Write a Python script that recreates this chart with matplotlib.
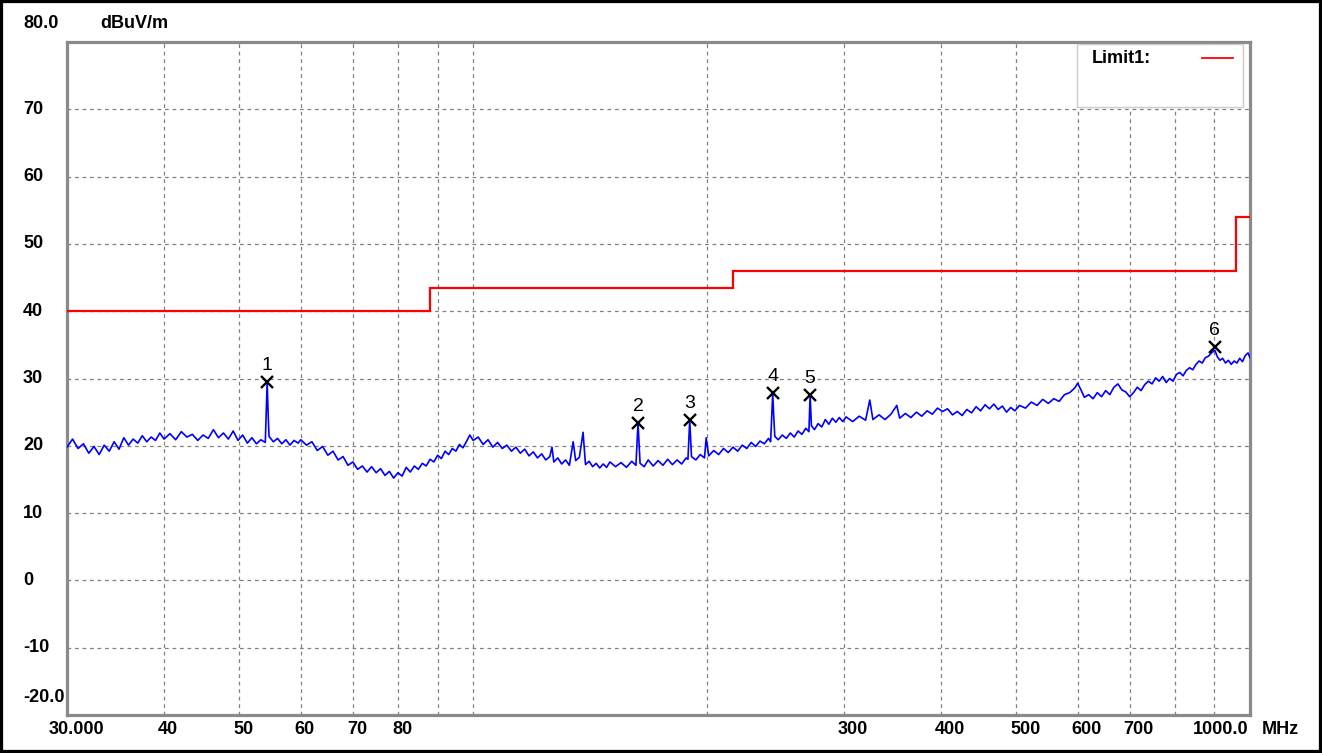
import matplotlib
matplotlib.use("Agg")
import matplotlib.pyplot as plt
from matplotlib.patches import Rectangle
from matplotlib.lines import Line2D
from matplotlib.transforms import blended_transform_factory, offset_copy

plt.rcParams['font.family'] = ['Liberation Sans', 'DejaVu Sans']

# receiver sweep (MHz, dBuV/m)
trace_freq = [
    30.0, 30.5, 31.0, 31.5, 32.0, 32.5, 33.0, 33.5, 34.0, 34.5,
    35.0, 35.5, 36.0, 36.5, 37.0, 37.5, 38.0, 38.5, 39.0, 39.5,
    40.0, 40.7, 41.4, 42.1, 42.8, 43.5, 44.2, 44.9, 45.6, 46.3,
    47.0, 47.7, 48.4, 49.1, 49.8, 50.5, 51.2, 51.9, 52.6, 53.3,
    54.0, 54.3, 54.45, 54.6, 55.3, 56.0, 56.7, 57.4, 58.1, 58.8, 59.5,
    60, 61, 62, 63, 64, 65, 66, 67, 68, 69,
    70, 71, 72, 73, 74, 75, 76, 77, 78, 79,
    80, 81, 82, 83, 84, 85, 86, 87, 88, 89,
    90, 91, 92, 93, 94, 95, 96, 97, 98, 99,
    100.0, 101.5, 103.0, 104.5, 106.0, 107.5, 109.0, 110.5, 112.0, 113.5,
    115.0, 116.5, 118.0, 119.5, 121.0, 122.5, 124.0, 125.5,
    126.3, 127.0, 128.5, 130.0, 131.5, 133.0, 134.5, 135.5, 137.0, 138.5,
    139.5, 141.0, 142.5, 144.0, 145.5, 147.0, 148.5,
    150.0, 152.5, 155.0, 157.5, 160.0, 162.0, 163.0, 164.0, 166.0, 168.0,
    170.5, 173.0, 175.5, 178.0, 180.5, 183.0, 185.5, 188.0, 189.0, 190.0,
    191.0, 193.5, 196.0, 198.5, 199.5,
    201, 204, 207, 210, 213, 216, 219, 222, 225, 228,
    231, 234, 237, 240, 241.5, 243.0, 243.7, 244.5, 247, 250,
    253, 256, 259, 262, 265, 268, 270.5, 271.5, 272.5, 275,
    278, 281, 284, 287, 290, 293, 296, 299,
    302, 308, 314, 320, 324, 327, 333, 339, 345, 351,
    354, 360, 366, 372, 378, 384, 390, 396, 402, 408,
    414, 420, 426, 432, 438, 444, 450, 456, 462, 468,
    474, 480, 486, 492, 498,
    505, 514, 523, 532, 541, 550, 559, 568, 577, 586,
    595, 600, 606, 612, 620, 628, 636, 644, 652, 660,
    668, 676, 684, 692, 700,
    708, 716, 724, 732, 740, 748, 756, 764, 772, 780,
    788, 796, 804, 812, 820, 828, 836, 844, 852, 860,
    868, 876, 884, 892, 901, 908, 915, 922, 930, 938,
    946, 954, 962, 970, 978, 986, 994, 1000,
]
trace_level = [
    19.8, 21.0, 19.6, 20.3, 18.9, 19.9, 18.7, 20.1, 19.2, 20.6,
    19.5, 21.2, 20.1, 21.0, 20.4, 21.5, 20.6, 21.3, 20.8, 21.9,
    21.0, 21.8, 20.9, 22.1, 21.3, 21.7, 20.8, 21.6, 21.1, 22.4,
    21.2, 21.9, 21.0, 22.2, 20.8, 21.6, 20.4, 21.2, 20.3, 20.9,
    20.5, 29.5, 24.9, 21.4, 20.6, 21.1, 20.3, 20.9, 20.1, 20.8, 20.4,
    20.9, 20.1, 20.6, 19.3, 19.9, 18.6, 19.2, 17.9, 18.4, 17.1,
    17.6, 16.5, 17.0, 16.1, 16.9, 16.0, 16.6, 15.6, 16.2, 15.2,
    16.0, 15.5, 16.8, 16.1, 17.0, 16.5, 17.4, 17.0, 18.0, 17.6,
    18.6, 18.1, 19.2, 18.7, 19.6, 19.2, 20.2, 19.7, 20.6, 21.6,
    20.8, 21.3, 20.2, 20.9, 19.8, 20.5, 19.6, 20.1, 19.2, 19.8,
    18.9, 19.5, 18.5, 19.1, 18.2, 18.8, 17.9, 18.4,
    19.8, 17.6, 18.2, 17.3, 17.9, 17.1, 20.6, 17.8, 18.3, 22.0,
    17.2, 17.7, 16.9, 17.4, 16.7, 17.3, 16.8,
    17.6, 16.9, 17.5, 16.8, 17.7, 17.1, 23.4, 17.4, 16.9, 17.9,
    17.0, 17.8, 17.1, 18.0, 17.2, 17.9, 17.3, 18.2, 18.0, 23.8,
    18.4, 17.9, 18.7, 18.2, 21.2,
    18.5, 19.3, 18.7, 19.6, 19.0, 19.8, 19.2, 20.1, 19.6, 20.5,
    19.9, 20.7, 20.3, 21.1, 20.6, 27.8, 24.5, 21.4, 20.9, 21.6,
    21.1, 21.9, 21.3, 22.2, 21.7, 22.6, 22.1, 27.5, 23.0, 22.4,
    23.3, 22.8, 23.9, 23.2, 24.1, 23.5, 24.2, 23.6,
    24.3, 23.6, 24.4, 23.8, 26.8, 23.9, 24.6, 23.9, 24.7, 26.0,
    24.1, 24.8, 24.2, 25.0, 24.4, 25.2, 24.7, 25.6, 25.1, 25.5,
    24.6, 25.1, 24.5, 25.4, 24.9, 25.8, 25.2, 26.1, 25.5, 26.2,
    25.4, 25.9, 25.0, 25.7, 25.2,
    26.0, 25.6, 26.5, 26.0, 26.9, 26.3, 27.0, 26.6, 27.6, 27.9,
    28.6, 29.3, 28.3, 27.2, 27.6, 27.0, 27.9, 27.3, 28.2, 27.6,
    28.7, 29.2, 28.3, 28.0, 27.3,
    27.9, 28.7, 28.2, 29.1, 29.6, 29.2, 30.1, 29.6, 30.3, 29.4,
    30.0, 29.6, 30.6, 30.9, 30.4, 31.2, 31.6, 31.3, 32.1, 32.6,
    32.3, 33.1, 33.3, 33.8, 34.2, 33.2, 32.7, 33.0, 32.3, 32.7,
    32.1, 32.6, 32.3, 33.0, 32.5, 33.4, 33.8, 33.1,
]

# FCC class B limit steps
limit_edges = [30, 88, 216, 960, 1000]
limit_level = [40, 43.5, 46, 54]

peak_freq = [54.3, 163, 190, 243, 271.5, 901]
peak_level = [29.5, 23.4, 23.8, 27.8, 27.5, 34.7]
peak_names = ["1", "2", "3", "4", "5", "6"]

x_grid = [40, 50, 60, 70, 80, 90, 100, 200, 300, 400, 500, 600, 700, 800, 900]
x_ticks = [40, 50, 60, 70, 80, 300, 400, 500, 600, 700]
x_tick_labels = ["40", "50", "60", "70", "80", "300", "400", "500", "600", "700"]
y_ticks = [70, 60, 50, 40, 30, 20, 10, 0, -10]
y_tick_labels = ["70", "60", "50", "40", "30", "20", "10", "0", "-10"]

W, H = 1322, 753
fig = plt.figure(figsize=(W / 100, H / 100), dpi=100)
ax = fig.add_axes([67 / W, 1 - 715 / H, (1250 - 67) / W, (715 - 42) / H])
ax.set_xscale("log")
ax.set_xlim(30, 1000)
ax.set_ylim(-20, 80)

ax.set_xticks(x_grid)
ax.set_xticks([], minor=True)
ax.set_yticks(y_ticks)
ax.tick_params(length=0, labelbottom=False, labelleft=False)
ax.grid(True, color="#808080", linestyle=(0, (3, 3)), linewidth=0.9)
ax.set_axisbelow(True)
for s in ax.spines.values():
    s.set_color("#8a8a8a")
    s.set_linewidth(2.3)

ax.plot(trace_freq, trace_level, color="#0000ff", lw=1.2, zorder=3)
ax.stairs(limit_level, limit_edges, baseline=None, color="#ff0000", lw=1.6, zorder=3)

ax.plot(peak_freq, peak_level, linestyle="none", marker="x", color="black",
        markersize=9, markeredgewidth=1.7, zorder=4)
for f, l, n in zip(peak_freq, peak_level, peak_names):
    ax.annotate(n, (f, l), xytext=(0, 12), textcoords="offset points",
                ha="center", va="center", fontsize=14, color="black")

# legend box
ax.add_patch(Rectangle((0.8538, 0.9034), 0.1403, 0.0936, transform=ax.transAxes,
                       facecolor="white", edgecolor="#cfcac2", lw=1, zorder=5))
ax.text(0.8664, 0.9762, "Limit1:", transform=ax.transAxes, ha="left", va="center",
        fontsize=13, fontweight="bold", zorder=6)
ax.add_line(Line2D([0.9594, 0.9856], [0.9762, 0.9762], transform=ax.transAxes,
                   color="#ff0000", lw=1.3, zorder=6))

# axis labels
bold = dict(fontsize=13, fontweight="bold")
xt = offset_copy(blended_transform_factory(ax.transData, fig.transFigure), fig=fig, x=-6, y=0, units="dots")
for v, t in zip(x_ticks, x_tick_labels):
    fig.text(v, 1 - 730 / H, t, transform=xt, ha="left", va="center", **bold)
fig.text(49 / W, 1 - 730 / H, "30.000", ha="left", va="center", **bold)
fig.text(1248 / W, 1 - 730 / H, "1000.0", ha="right", va="center", **bold)
fig.text(1262 / W, 1 - 730 / H, "MHz", ha="left", va="center", **bold)

yt = blended_transform_factory(fig.transFigure, ax.transData)
for v, t in zip(y_ticks, y_tick_labels):
    fig.text(23 / W, v, t, transform=yt, ha="left", va="center", **bold)
fig.text(23 / W, 1 - 23 / H, "80.0", ha="left", va="center", **bold)
fig.text(23 / W, 1 - 697 / H, "-20.0", ha="left", va="center", **bold)
fig.text(100 / W, 1 - 23 / H, "dBuV/m", ha="left", va="center", **bold)

# outer frame
fig.patches.append(Rectangle((0, 0), 1, 1, transform=fig.transFigure, fill=False,
                             edgecolor="black", lw=4.5))

fig.savefig("out.png", dpi=100)
